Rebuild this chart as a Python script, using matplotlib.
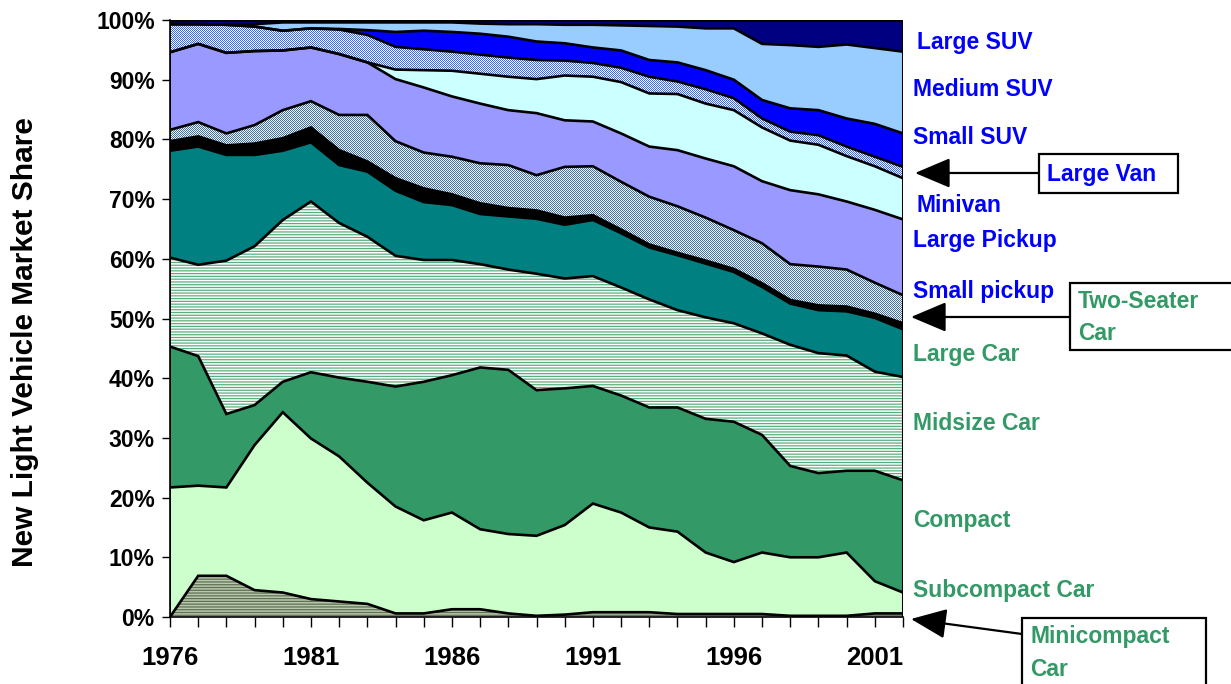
import numpy as np
import matplotlib
matplotlib.use("Agg")
import matplotlib.pyplot as plt
from matplotlib.patches import Rectangle, FancyArrowPatch
from matplotlib.colors import to_rgb

plt.rcParams['font.family'] = ['Liberation Sans', 'DejaVu Sans']
plt.rcParams['hatch.linewidth'] = 0.9

years = np.arange(1976, 2003)

# market shares (%), bottom to top
minicompact = [0.0, 6.9, 6.9, 4.5, 4.1, 3.0, 2.6, 2.2, 0.6, 0.6, 1.3, 1.3, 0.6, 0.2, 0.4, 0.8, 0.8, 0.8, 0.5, 0.5, 0.5, 0.5, 0.2, 0.2, 0.2, 0.6, 0.6]
subcompact = [21.7, 15.1, 14.8, 24.3, 30.2, 26.9, 24.3, 20.3, 17.9, 15.6, 16.2, 13.4, 13.3, 13.4, 15.0, 18.2, 16.7, 14.2, 13.8, 10.3, 8.7, 10.3, 9.8, 9.8, 10.6, 5.4, 3.5]
compact = [23.6, 21.7, 12.3, 6.7, 5.1, 11.1, 13.2, 16.9, 20.1, 23.2, 23.0, 27.1, 27.5, 24.4, 22.9, 19.7, 19.6, 20.1, 20.8, 22.4, 23.5, 19.7, 15.3, 14.1, 13.7, 18.5, 18.8]
midsize = [14.9, 15.3, 25.7, 26.6, 27.1, 28.6, 25.9, 24.3, 21.9, 20.4, 19.3, 17.3, 16.8, 19.5, 18.4, 18.4, 18.1, 18.1, 16.3, 17.0, 16.5, 17.0, 20.3, 20.1, 19.3, 16.6, 17.3]
large_car = [17.9, 19.8, 17.7, 15.3, 11.6, 9.9, 9.7, 10.9, 10.9, 9.7, 9.2, 8.4, 8.9, 9.2, 9.0, 9.4, 9.1, 8.7, 9.2, 9.0, 8.6, 7.8, 6.9, 7.2, 7.4, 9.0, 8.0]
two_seater = [1.6, 1.7, 1.6, 1.9, 2.1, 2.5, 2.5, 1.7, 2.1, 2.3, 1.8, 1.8, 1.4, 1.4, 1.2, 0.8, 0.6, 0.5, 0.4, 0.5, 0.5, 0.6, 0.6, 0.8, 0.8, 0.7, 1.0]
small_pickup = [1.9, 2.4, 2.0, 3.1, 4.7, 4.4, 5.9, 7.8, 6.2, 6.0, 6.3, 6.7, 7.2, 5.9, 8.5, 8.2, 8.0, 8.0, 7.8, 7.2, 6.5, 6.7, 6.0, 6.5, 6.2, 5.2, 4.7]
large_pickup = [13.0, 13.1, 13.5, 12.4, 10.0, 9.0, 10.2, 8.8, 10.4, 10.9, 10.1, 10.0, 9.2, 10.4, 7.8, 7.5, 8.1, 8.4, 9.4, 9.9, 10.7, 10.4, 12.4, 12.1, 11.4, 12.2, 12.7]
minivan = [0.0, 0.0, 0.0, 0.0, 0.0, 0.0, 0.0, 0.0, 1.6, 2.9, 4.3, 5.0, 5.6, 5.7, 7.5, 7.5, 8.6, 8.9, 9.4, 9.2, 9.4, 9.0, 8.3, 8.3, 7.6, 7.3, 6.9]
large_van = [4.7, 3.3, 4.7, 4.1, 3.3, 3.2, 4.1, 4.6, 3.8, 3.5, 3.2, 3.2, 3.2, 3.2, 2.5, 2.3, 2.4, 2.8, 2.1, 2.4, 2.0, 1.5, 1.5, 1.6, 1.6, 1.6, 1.9]
small_suv = [0.0, 0.0, 0.0, 0.0, 0.0, 0.0, 0.1, 0.8, 2.5, 3.1, 3.3, 3.5, 3.5, 3.1, 2.9, 2.6, 2.9, 2.8, 3.2, 3.2, 3.1, 3.1, 3.9, 4.2, 4.7, 5.5, 5.6]
medium_suv = [0.0, 0.0, 0.0, 0.4, 1.4, 1.0, 1.1, 1.3, 1.6, 1.4, 1.6, 1.7, 2.1, 2.9, 3.1, 3.8, 4.2, 5.7, 6.0, 7.0, 8.6, 9.4, 10.6, 10.6, 12.4, 12.7, 13.7]
large_suv = [0.7, 0.7, 0.8, 0.7, 0.4, 0.4, 0.4, 0.4, 0.4, 0.4, 0.4, 0.6, 0.7, 0.7, 0.8, 0.8, 0.9, 1.0, 1.1, 1.4, 1.4, 4.0, 4.2, 4.5, 4.1, 4.7, 5.3]

series = [minicompact, subcompact, compact, midsize, large_car, two_seater,
          small_pickup, large_pickup, minivan, large_van, small_suv, medium_suv, large_suv]
# (facecolor, hatch, hatch colour, checker colours)
styles = [
    ('#b9c8ad', '------', '#5d7052', None),
    ('#ccffcc', None, None, None),
    ('#339966', None, None, None),
    ('#ffffff', '------', '#59b07f', None),
    ('#008080', None, None, None),
    ('#000000', None, None, None),
    ('#8fa6c8', None, None, ('#3366ff', '#ffff99')),
    ('#9999ff', None, None, None),
    ('#ccffff', None, None, None),
    ('#99b3ff', None, None, ('#3366ff', '#ffffff')),
    ('#0000ff', None, None, None),
    ('#99ccff', None, None, None),
    ('#000080', None, None, None),
]

W, H = 1231, 684
AX_L, AX_R, AX_T, AX_B = 170, 903, 20, 617
fig = plt.figure(figsize=(W / 100, H / 100), dpi=100)
ax = fig.add_axes([AX_L / W, (H - AX_B) / H, (AX_R - AX_L) / W, (AX_B - AX_T) / H])

arr = np.array(series, dtype=float)
tops = np.cumsum(arr, axis=0)
bottoms = np.vstack([np.zeros(len(years)), tops[:-1]])

pw, ph = AX_R - AX_L, AX_B - AX_T
yy, xx = np.mgrid[0:ph, 0:pw]
checker = ((xx + yy) % 2 == 0)

for i, (fc, hatch, hc, chk) in enumerate(styles):
    poly = ax.fill_between(years, bottoms[i], tops[i], facecolor=fc, edgecolor='none', lw=0, zorder=1)
    if hatch:
        ax.fill_between(years, bottoms[i], tops[i], facecolor='none', edgecolor=hc,
                        hatch=hatch, lw=0, zorder=1.5)
    if chk:
        c1, c2 = np.array(to_rgb(chk[0])), np.array(to_rgb(chk[1]))
        img = np.where(checker[..., None], c1, c2)
        im = ax.imshow(img, extent=[years[0], years[-1], 0, 100], aspect='auto',
                       interpolation='none', zorder=1.5)
        im.set_clip_path(poly.get_paths()[0], transform=ax.transData)
for i in range(len(series)):
    ax.plot(years, tops[i], color='black', lw=1.9, zorder=3, solid_joinstyle='miter')
ax.plot([years[-1], years[-1]], [0, tops[-1][-1]], color='black', lw=2.2, zorder=3)
ax.plot([years[0], years[0]], [0, tops[-1][0]], color='black', lw=1.2, zorder=3)

ax.set_xlim(years[0], years[-1])
ax.set_ylim(0, 100)
ax.set_xticks(years)
ax.set_xticklabels([str(y) if (y - 1976) % 5 == 0 else '' for y in years])
ax.set_yticks(np.arange(0, 101, 10))
ax.set_yticklabels([f'{v}%' for v in range(0, 101, 10)])
for s in ['top', 'right']:
    ax.spines[s].set_visible(False)
ax.spines['left'].set_linewidth(1.2)
ax.spines['bottom'].set_linewidth(1.2)
ax.tick_params(axis='y', direction='out', length=6, width=1, pad=5, labelsize=16.5)
ax.tick_params(axis='x', direction='out', length=7, width=1, pad=14, labelsize=18.5)
for lbl in ax.get_xticklabels() + ax.get_yticklabels():
    lbl.set_fontweight('bold')

fig.text(25 / W, 1 - 342 / H, 'New Light Vehicle Market Share', rotation=90,
         ha='center', va='center', fontsize=21.5, fontweight='bold')

BLUE = '#0000ff'
GREEN = '#339966'

def fx(x):
    return x / W

def fy(y):
    return 1 - y / H

def label(x, y, s, color):
    fig.text(fx(x), fy(y), s, ha='left', va='center', fontsize=16.5,
             fontweight='bold', color=color)

label(917, 43, 'Large SUV', BLUE)
label(913, 90, 'Medium SUV', BLUE)
label(913, 138, 'Small SUV', BLUE)
label(917, 206, 'Minivan', BLUE)
label(913, 240, 'Large Pickup', BLUE)
label(913, 292, 'Small pickup', BLUE)
label(913, 355, 'Large Car', GREEN)
label(913, 423, 'Midsize Car', GREEN)
label(913, 521, 'Compact', GREEN)
label(913, 591, 'Subcompact Car', GREEN)

def box(x0, y0, x1, y1):
    fig.add_artist(Rectangle((fx(x0), fy(y1)), (x1 - x0) / W, (y1 - y0) / H,
                             transform=fig.transFigure, facecolor='white',
                             edgecolor='black', lw=1.6, zorder=4))

def arrow(x0, y0, x1, y1):
    fig.add_artist(FancyArrowPatch((fx(x0), fy(y0)), (fx(x1), fy(y1)),
                                   transform=fig.transFigure,
                                   arrowstyle='-|>,head_length=1.3,head_width=0.55',
                                   mutation_scale=17, color='black', lw=1.6,
                                   shrinkA=0, shrinkB=0, zorder=5))

box(1039, 154, 1178, 193)
fig.text(fx(1047), fy(174), 'Large Van', ha='left', va='center', fontsize=16.5,
         fontweight='bold', color=BLUE, zorder=6)
arrow(1039, 173, 915, 173)

box(1070, 283, 1240, 350)
fig.text(fx(1078), fy(302), 'Two-Seater', ha='left', va='center', fontsize=16.5,
         fontweight='bold', color=GREEN, zorder=6)
fig.text(fx(1078), fy(334), 'Car', ha='left', va='center', fontsize=16.5,
         fontweight='bold', color=GREEN, zorder=6)
arrow(1070, 317, 911, 317)

box(1022, 618, 1206, 700)
fig.text(fx(1030), fy(637), 'Minicompact', ha='left', va='center', fontsize=16.5,
         fontweight='bold', color=GREEN, zorder=6)
fig.text(fx(1030), fy(669), 'Car', ha='left', va='center', fontsize=16.5,
         fontweight='bold', color=GREEN, zorder=6)
arrow(1022, 634, 911, 619)

fig.savefig('out.png', dpi=100)
